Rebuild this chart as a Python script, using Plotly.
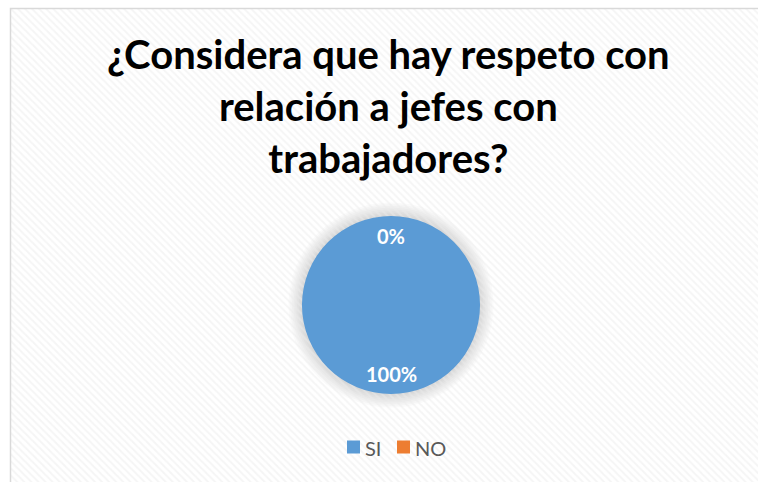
import math
import plotly.graph_objects as go

W, H = 758, 482

title_lines = ["¿Considera que hay respeto con", "relación a jefes con", "trabajadores?"]
labels = ["SI", "NO"]
values = [100, 0]
colors = ["#5B9BD5", "#ED7D31"]

# pie geometry in pixels
cx, cy, R = 391, 305, 89

def px_x(x):
    return x / W

def px_y(y):
    return 1 - y / H

fig = go.Figure()

# background hatched area (decoration)
fig.add_trace(go.Scatter(
    x=[0, 1, 1, 0, 0], y=[0, 0, 1, 1, 0],
    xaxis="x", yaxis="y", mode="lines", line=dict(width=0),
    fill="toself", fillcolor="rgba(0,0,0,0)",
    fillpattern=dict(shape="\\", fgcolor="#ececec", bgcolor="rgba(255,255,255,0)", size=5, solidity=0.4),
    hoverinfo="skip", showlegend=False,
))

fig.add_trace(go.Pie(
    labels=labels, values=values, sort=False, direction="clockwise", rotation=0,
    marker=dict(colors=colors, line=dict(width=0)),
    textinfo="none", hoverinfo="label+percent",
    domain=dict(x=[px_x(cx - R), px_x(cx + R)], y=[px_y(cy + R), px_y(cy - R)]),
    showlegend=False,
))

annotations = []

# title
annotations.append(dict(
    x=px_x(388), y=px_y(28), xref="paper", yref="paper",
    text="<br>".join(title_lines), showarrow=False,
    xanchor="center", yanchor="top", align="center",
    font=dict(family="Lato", size=40, color="black", weight="bold"),
))

# data labels placed at each slice's mid angle
total = sum(values)
cum = 0
for lab, v in zip(labels, values):
    frac = v / total
    mid = (cum + frac / 2) * 2 * math.pi
    cum += frac
    r = 0.77 * R
    x = cx + r * math.sin(mid)
    y = cy - r * math.cos(mid)
    annotations.append(dict(
        x=px_x(x), y=px_y(y), xref="paper", yref="paper",
        text=f"{round(frac * 100)}%", showarrow=False,
        font=dict(family="Lato", size=20, color="white", weight="bold"),
        xanchor="center", yanchor="middle",
    ))

shapes = []
# shadow glow around the pie
for i in range(8, 0, -1):
    rr = R + i * 1.7
    shapes.append(dict(
        type="circle", xref="paper", yref="paper", layer="below",
        x0=px_x(cx - rr), x1=px_x(cx + rr), y0=px_y(cy + rr), y1=px_y(cy - rr),
        fillcolor="rgba(0,0,0,0.018)", line=dict(width=0),
    ))

# custom legend: square marker + label
leg_x = [347, 397]
leg_y = 447
sq = 13
for lab, col, lx in zip(labels, colors, leg_x):
    shapes.append(dict(
        type="rect", xref="paper", yref="paper", layer="above",
        x0=px_x(lx), x1=px_x(lx + sq), y0=px_y(leg_y + sq / 2), y1=px_y(leg_y - sq / 2),
        fillcolor=col, line=dict(width=0),
    ))
    annotations.append(dict(
        x=px_x(lx + sq + 3), y=px_y(leg_y + 1), xref="paper", yref="paper",
        text=lab, showarrow=False, xanchor="left", yanchor="middle",
        font=dict(family="Lato", size=20, color="#595959"),
    ))

# chart border
shapes.append(dict(
    type="rect", xref="paper", yref="paper", layer="above",
    x0=px_x(10.5), x1=px_x(W + 5), y0=px_y(H + 5), y1=px_y(8.5),
    line=dict(color="#d9d9d9", width=1.5), fillcolor="rgba(0,0,0,0)",
))

fig.update_layout(
    width=W, height=H,
    margin=dict(l=0, r=0, t=0, b=0),
    paper_bgcolor="white", plot_bgcolor="rgba(0,0,0,0)",
    xaxis=dict(domain=[px_x(11), 1], range=[0, 1], visible=False, fixedrange=True),
    yaxis=dict(domain=[0, px_y(9)], range=[0, 1], visible=False, fixedrange=True),
    showlegend=False,
    annotations=annotations,
    shapes=shapes,
)

fig.write_html("out.html")
